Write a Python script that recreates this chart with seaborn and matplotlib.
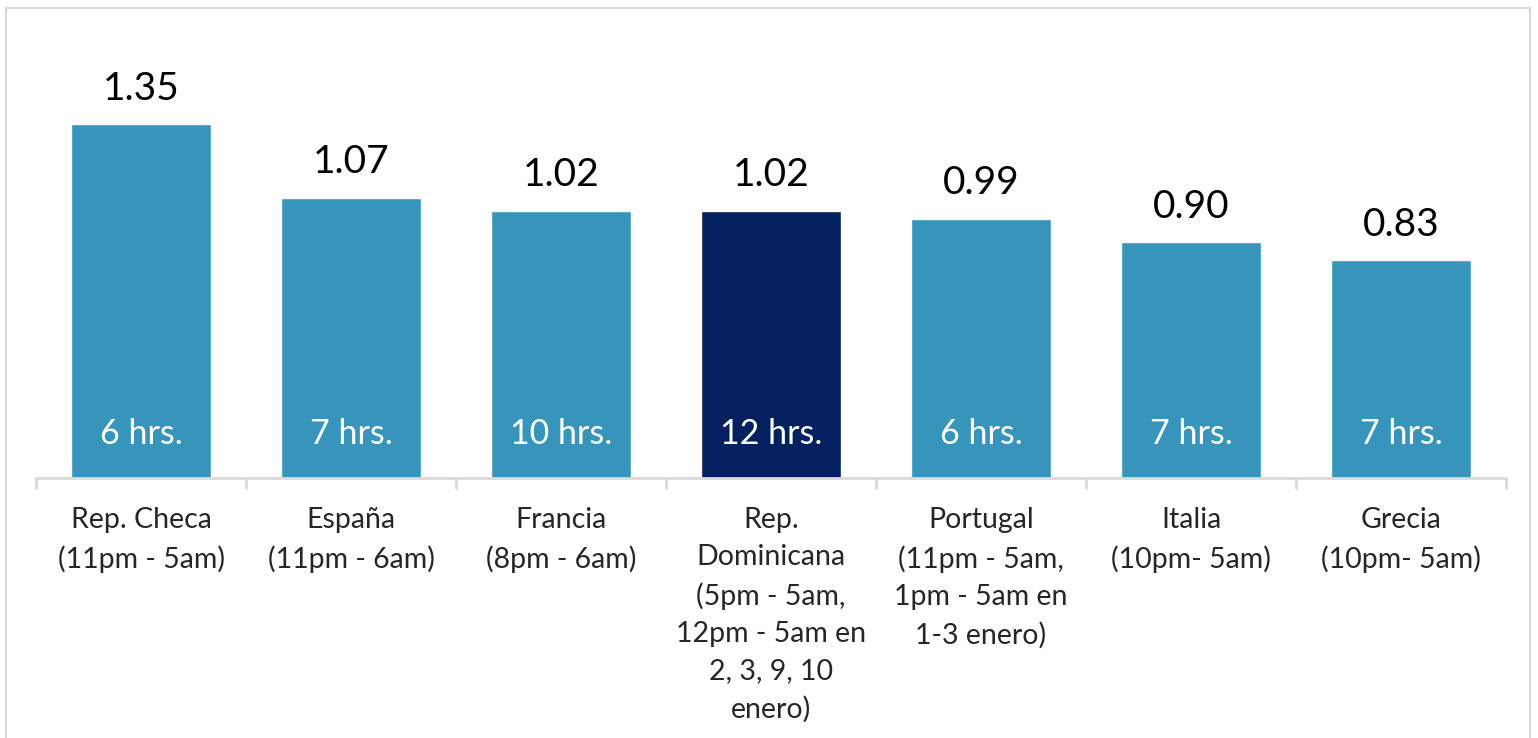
import matplotlib
matplotlib.use("Agg")
import matplotlib.pyplot as plt
import seaborn as sns
import pandas as pd
from matplotlib.patches import Rectangle

# -------------------------------
# DATA
# -------------------------------

countries = [
    "Rep. Checa\n(11pm - 5am)",
    "España\n(11pm - 6am)",
    "Francia\n(8pm - 6am)",
    "Rep.\nDominicana\n(5pm - 5am,\n12pm - 5am en\n2, 3, 9, 10\nenero)",
    "Portugal\n(11pm - 5am,\n1pm - 5am en\n1-3 enero)",
    "Italia\n(10pm- 5am)",
    "Grecia\n(10pm- 5am)",
]
values = [1.35, 1.07, 1.02, 1.02, 0.99, 0.90, 0.83]
hours = ["6 hrs.", "7 hrs.", "10 hrs.", "12 hrs.", "6 hrs.", "7 hrs.", "7 hrs."]

LIGHT = "#3795BC"
DARK = "#03215E"
colors = [DARK if c.startswith("Rep.\nDom") else LIGHT for c in countries]

df = pd.DataFrame({"country": countries, "value": values})

# -------------------------------
# PLOT
# -------------------------------

sns.set_style("white")
plt.rcParams["font.family"] = ["Lato", "DejaVu Sans"]

fig = plt.figure(figsize=(15.38, 7.38), dpi=100)
ax = fig.add_axes([36 / 1538, 1 - 478 / 738, 1470 / 1538, 418 / 738])

sns.barplot(data=df, x="country", y="value", hue="country",
            palette=colors, legend=False, width=0.667, saturation=1, ax=ax)

ax.set_ylim(0, 1.595)
ax.set_xlim(-0.5, len(countries) - 0.5)

# value labels above, hours inside
for i, (v, h) in enumerate(zip(values, hours)):
    ax.annotate(f"{v:.2f}", (i, v), xytext=(0, 12.5), textcoords="offset points",
                ha="center", va="bottom", fontsize=28, color="black")
    ax.annotate(h, (i, 0), xytext=(0, 32), textcoords="offset points",
                ha="center", va="center", fontsize=24.5, color="white")

# axis styling
for s in ["top", "right", "left"]:
    ax.spines[s].set_visible(False)
ax.spines["bottom"].set_color("#D9D9D9")
ax.spines["bottom"].set_linewidth(2)
ax.set_yticks([])
ax.set_ylabel("")
ax.set_xlabel("")

ax.set_xticks(range(len(countries)))
ax.set_xticklabels(countries, fontsize=20.5, linespacing=1.53, va="top")
ax.tick_params(axis="x", length=0, pad=21)
# category boundary ticks
for b in [x - 0.5 for x in range(len(countries) + 1)]:
    ax.plot([b, b], [0, -0.038], color="#D9D9D9", lw=2, clip_on=False)

# outer light border
fig.patches.append(Rectangle((6 / 1538, -0.05), 1524 / 1538, 1 - 8 / 738 + 0.05,
                             transform=fig.transFigure, fill=False,
                             edgecolor="#D9D9D9", lw=1.5))

fig.savefig("out.png", dpi=100)
